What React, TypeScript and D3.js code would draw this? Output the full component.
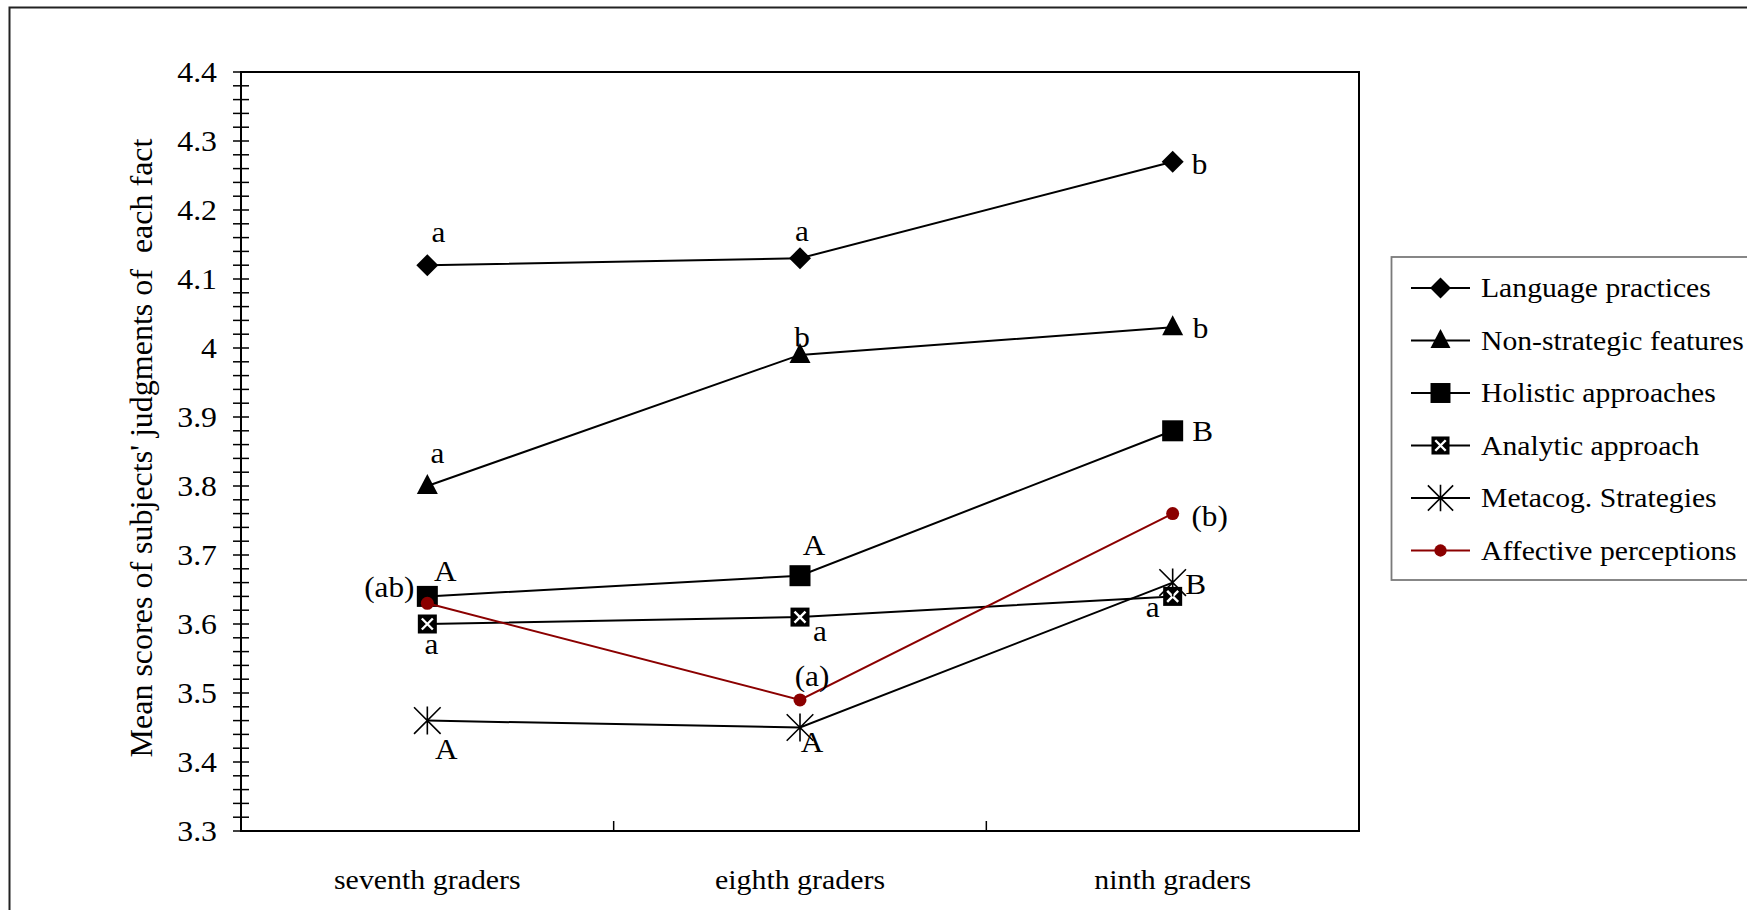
import React from "react";
import * as d3 from "d3";

const categories = ["seventh graders", "eighth graders", "ninth graders"];
const seriesNames = [
  "Language practices",
  "Non-strategic features",
  "Holistic approaches",
  "Analytic approach",
  "Metacog. Strategies",
  "Affective perceptions",
];
const languagePractices = [4.12, 4.13, 4.27];
const nonStrategic = [3.8, 3.99, 4.03];
const holistic = [3.64, 3.67, 3.88];
const analytic = [3.6, 3.61, 3.64];
const metacog = [3.46, 3.45, 3.66];
const affective = [3.63, 3.49, 3.76];
const seriesValues = [languagePractices, nonStrategic, holistic, analytic, metacog, affective];

const languageLabels = ["a", "a", "b"];
const nonStrategicLabels = ["a", "b", "b"];
const holisticLabels = ["A", "A", "B"];
const analyticLabels = ["a", "a", "a"];
const metacogLabels = ["A", "A", "B"];
const affectiveLabels = ["(ab)", "(a)", "(b)"];
const seriesLabels = [languageLabels, nonStrategicLabels, holisticLabels, analyticLabels, metacogLabels, affectiveLabels];

const yTickValues = [3.3, 3.4, 3.5, 3.6, 3.7, 3.8, 3.9, 4, 4.1, 4.2, 4.3, 4.4];
const yAxisTitle = "Mean scores of subjects' judgments of  each fact";

// layout (not data)
const W = 1747;
const H = 910;
const PL = 241;
const PR = 1359;
const PT = 72;
const PB = 831;
const FONT = "'Liberation Serif', 'Times New Roman', serif";
const SX = 1.06;
const RED = "#8b0000";
const markerKinds = ["diamond", "triangle", "square", "xsquare", "star", "circle"];
const seriesColors = ["#000", "#000", "#000", "#000", "#000", RED];
// label offsets: [dx (center), dy (baseline)] relative to marker
const labelOffsets = [
  [[11, -23], [2, -17], [27, 12]],
  [[10, -23], [2, -8], [28, 11]],
  [[18, -15], [14, -21], [30, 10]],
  [[4, 30], [20, 24], [-20, 21]],
  [[19, 38], [12, 24], [23, 11]],
  [[-38, -6], [12, -14], [37, 12]],
];

function STxt({ x, y, size, anchor = "middle", children, fill = "#000" }: any) {
  return (
    <text
      transform={`translate(${x},${y}) scale(${SX},1)`}
      textAnchor={anchor}
      fontFamily={FONT}
      fontSize={size}
      fill={fill}
    >
      {children}
    </text>
  );
}

function Marker({ kind, x, y, scale = 1 }: any) {
  const s = scale;
  switch (kind) {
    case "diamond": {
      const r = 11 * s;
      return <path d={`M${x},${y - r}L${x + r},${y}L${x},${y + r}L${x - r},${y}Z`} fill="#000" />;
    }
    case "triangle": {
      const h = 20 * s;
      const w = 21 * s;
      return (
        <path
          d={`M${x},${y - h * 0.6}L${x + w / 2},${y + h * 0.4}L${x - w / 2},${y + h * 0.4}Z`}
          fill="#000"
        />
      );
    }
    case "square": {
      const a = 21 * s;
      return <rect x={x - a / 2} y={y - a / 2} width={a} height={a} fill="#000" />;
    }
    case "xsquare": {
      const a = 19 * s;
      const k = 5.5 * s;
      return (
        <g>
          <rect x={x - a / 2} y={y - a / 2} width={a} height={a} fill="#000" />
          <path d={`M${x - k},${y - k}L${x + k},${y + k}M${x - k},${y + k}L${x + k},${y - k}`} stroke="#fff" strokeWidth={2.4} />
        </g>
      );
    }
    case "star": {
      const r = 14 * s;
      const dx = r * 0.95;
      const dy = r * 0.95;
      return (
        <path
          d={`M${x},${y - r}L${x},${y + r}M${x - dx},${y - dy}L${x + dx},${y + dy}M${x - dx},${y + dy}L${x + dx},${y - dy}`}
          stroke="#000"
          strokeWidth={1.6}
          fill="none"
        />
      );
    }
    case "circle":
      return <circle cx={x} cy={y} r={6.5 * s} fill={RED} />;
    default:
      return null;
  }
}

export default function App() {
  const x = d3.scaleBand<string>().domain(categories).range([PL, PR]).padding(0);
  const cx = (c: string) => (x(c) as number) + x.bandwidth() / 2;
  const y = d3.scaleLinear().domain([3.3, 4.4]).range([PB, PT]);
  const minor = d3.range(0, 56).map((i) => 3.3 + i * 0.02);
  const line = d3
    .line<number>()
    .x((_, i) => cx(categories[i]))
    .y((v) => y(v));
  const bandEdges = categories.slice(1).map((c) => x(c) as number);

  const legendRows = [288, 340.5, 393, 445.5, 498, 550.5];

  return (
    <svg
      width={W}
      height={H}
      style={{ position: "absolute", left: 0, top: 0, background: "#fff" }}
    >
      <rect x={0} y={0} width={W} height={H} fill="#fff" />
      {/* outer frame */}
      <path d={`M9.5,${H + 5}V7.5H${W + 5}`} fill="none" stroke="#222" strokeWidth={2} />

      {/* plot frame */}
      <rect x={PL} y={PT} width={PR - PL} height={PB - PT} fill="none" stroke="#000" strokeWidth={2} />

      {/* y ticks */}
      {minor.map((v, i) => (
        <line key={"m" + i} x1={PL - 8} x2={PL + 8} y1={y(v)} y2={y(v)} stroke="#000" strokeWidth={1.5} />
      ))}
      {yTickValues.map((v) => (
        <STxt key={"t" + v} x={217} y={y(v) + 10} size={30} anchor="end">
          {d3.format("")(+v.toFixed(1))}
        </STxt>
      ))}
      {/* x band ticks */}
      {bandEdges.map((e, i) => (
        <line key={"b" + i} x1={e} x2={e} y1={PB} y2={PB - 10} stroke="#000" strokeWidth={1.5} />
      ))}
      {categories.map((c) => (
        <STxt key={c} x={cx(c)} y={889} size={28.2}>
          {c}
        </STxt>
      ))}

      {/* y axis title */}
      <text
        transform={`translate(152,448) rotate(-90)`}
        textAnchor="middle"
        fontFamily={FONT}
        fontSize={32}
        fill="#000"
        style={{ whiteSpace: "pre" }}
      >
        {yAxisTitle}
      </text>

      {/* series */}
      {seriesValues.map((vals, si) => (
        <g key={"s" + si}>
          <path d={line(vals) as string} fill="none" stroke={seriesColors[si]} strokeWidth={2} />
          {vals.map((v, i) => (
            <Marker key={i} kind={markerKinds[si]} x={cx(categories[i])} y={y(v)} />
          ))}
        </g>
      ))}
      {/* annotations */}
      {seriesValues.map((vals, si) =>
        vals.map((v, i) => (
          <STxt
            key={"l" + si + "-" + i}
            x={cx(categories[i]) + labelOffsets[si][i][0]}
            y={y(v) + labelOffsets[si][i][1]}
            size={29.5}
          >
            {seriesLabels[si][i]}
          </STxt>
        ))
      )}

      {/* legend */}
      <rect x={1391.5} y={257} width={W} height={323} fill="#fff" stroke="#7a7a7a" strokeWidth={1.8} />
      {seriesNames.map((n, i) => (
        <g key={"lg" + i}>
          <line x1={1411} x2={1470} y1={legendRows[i]} y2={legendRows[i]} stroke={seriesColors[i]} strokeWidth={2} />
          <Marker kind={markerKinds[i]} x={1440.5} y={legendRows[i]} scale={0.95} />
          <STxt x={1481} y={legendRows[i] + 9} size={28} anchor="start">
            {n}
          </STxt>
        </g>
      ))}
    </svg>
  );
}
